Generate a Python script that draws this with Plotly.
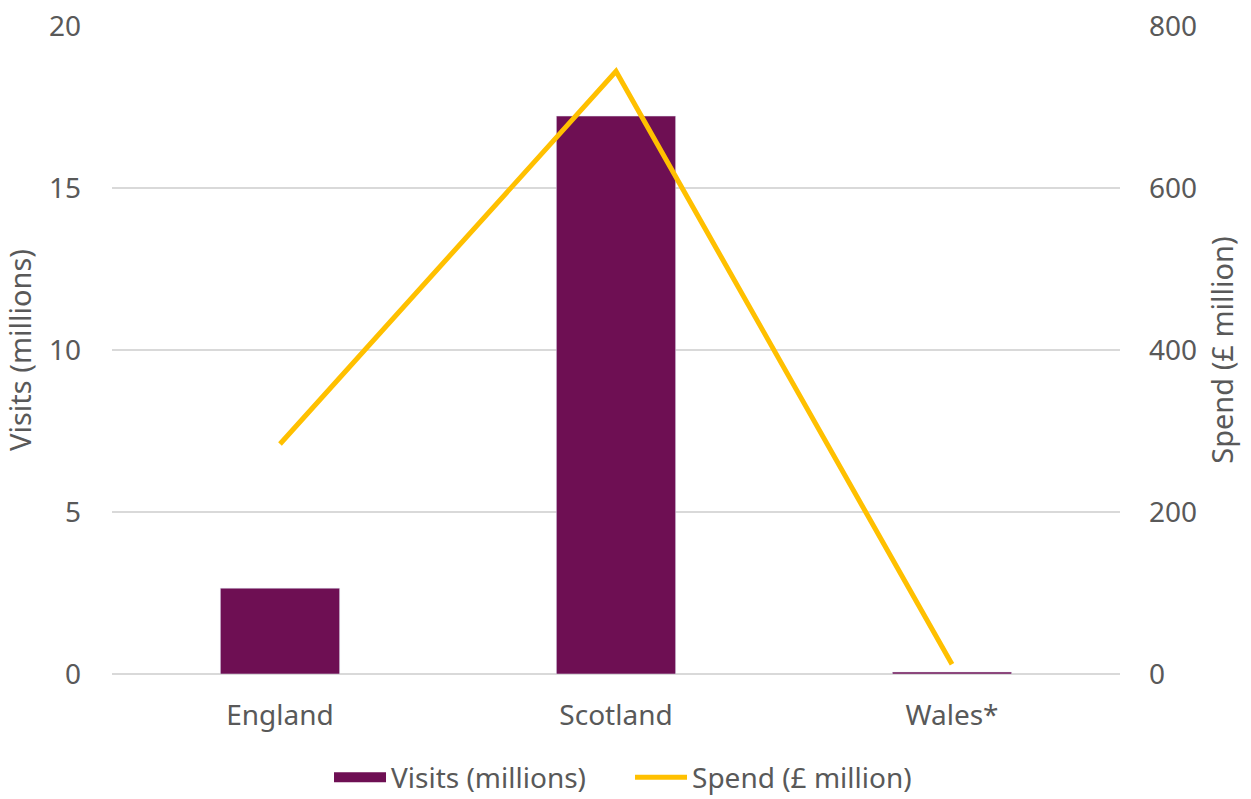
import plotly.graph_objects as go

categories = ["England", "Scotland", "Wales*"]
visits = [2.65, 17.22, 0.06]
spend = [284, 744, 12]

font_family = "Noto Sans, Lato, sans-serif"
grey = "#595959"
purple = "#6E0F53"
gold = "#FFC000"

fig = go.Figure()
fig.add_trace(go.Bar(x=categories, y=visits, name="Visits (millions)",
                     marker_color=purple, width=0.355, yaxis="y", showlegend=False))
# legend stand-in for the bar series (wide rectangle swatch)
fig.add_trace(go.Scatter(x=[None], y=[None], name="Visits (millions)", mode="lines",
                         line=dict(color=purple, width=19), yaxis="y", hoverinfo="skip"))
fig.add_trace(go.Scatter(x=categories, y=spend, name="Spend (£ million)",
                         mode="lines", line=dict(color=gold, width=5),
                         yaxis="y2"))

fig.update_layout(
    width=1251, height=799,
    margin=dict(l=112, r=131, t=26, b=125, autoexpand=False),
    plot_bgcolor="white", paper_bgcolor="white",
    font=dict(family=font_family, size=28, color=grey),
    xaxis=dict(showgrid=False, showline=False, ticks="", automargin=False,
               tickfont=dict(size=28, color=grey), ticklabelstandoff=22),
    yaxis=dict(range=[0, 20], dtick=5, showgrid=True, gridcolor="#D9D9D9", gridwidth=1.5,
               zeroline=True, zerolinecolor="#D9D9D9", zerolinewidth=1.5, automargin=False,
               title=dict(text="Visits (millions)", font=dict(size=29, color=grey), standoff=8),
               tickfont=dict(size=28, color=grey), ticklabelstandoff=30),
    yaxis2=dict(range=[0, 800], dtick=200, overlaying="y", side="right", showgrid=False,
                zeroline=False, automargin=False,
                title=dict(text="Spend (£ million)", font=dict(size=29, color=grey), standoff=16),
                tickfont=dict(size=28, color=grey), ticklabelstandoff=28),
    legend=dict(orientation="h", x=0.263, xanchor="left", xref="container",
                y=0.058, yanchor="top", yref="container",
                font=dict(size=28, color=grey), traceorder="normal", itemwidth=52,
                entrywidth=234, entrywidthmode="pixels"),
    showlegend=True,
)

fig.write_html("out.html")
